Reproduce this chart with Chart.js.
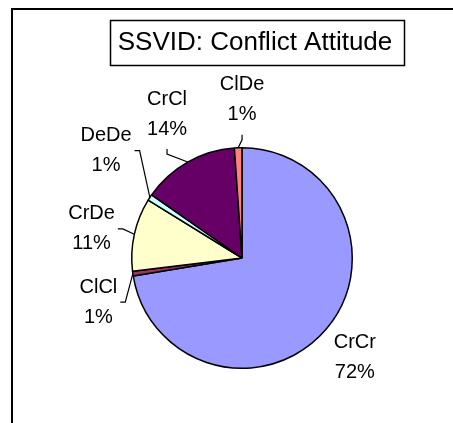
<!DOCTYPE html>
<html>
<head>
<meta charset="utf-8">
<script src="https://cdn.jsdelivr.net/npm/chart.js@4"></script>
<style>
  html, body { margin: 0; padding: 0; background: #fff; }
  #wrap { width: 453px; height: 423px; }
</style>
</head>
<body>
<div id="wrap"><canvas id="pieChart" width="453" height="423"></canvas></div>
<script>
// Conflict attitude shares (percent)
const categories = ["CrCr", "ClCl", "CrDe", "DeDe", "CrCl", "ClDe"];
const shares = [72.4, 0.7, 10.7, 0.9, 14.2, 1.1];
const sliceColors = ["#9999FF", "#993366", "#FFFFCC", "#CCFFFF", "#660066", "#FF8080"];
const chartTitle = "SSVID: Conflict Attitude";

const FONT = '"Liberation Sans", Arial, sans-serif';

// label placement: angle nudge (deg, clockwise), distance past the rim, leader side
const labelPlace = [
  { nudge: 1, extra: 40, leader: null },
  { nudge: -9, extra: 40, leader: "side" },
  { nudge: -1.5, extra: 43, leader: "side" },
  { nudge: 5, extra: 63, leader: "side" },
  { nudge: 2, extra: 52, leader: "bottom" },
  { nudge: 2, extra: 48, leader: "bottom" }
];

const frameAndTitle = {
  id: "frameAndTitle",
  beforeDraw(chart) {
    const ctx = chart.ctx;
    ctx.save();
    ctx.fillStyle = "#fff";
    ctx.fillRect(0, 0, chart.width, chart.height);
    // outer frame (only left and top edges visible)
    ctx.strokeStyle = "#000";
    ctx.lineWidth = 2;
    ctx.beginPath();
    ctx.moveTo(12, chart.height + 2);
    ctx.lineTo(12, 9);
    ctx.lineTo(chart.width + 2, 9);
    ctx.stroke();
    // title box
    ctx.lineWidth = 1.5;
    ctx.strokeRect(110.5, 20.5, 294, 45);
    ctx.fillStyle = "#000";
    ctx.font = "26px " + FONT;
    ctx.textAlign = "center";
    ctx.textBaseline = "middle";
    ctx.fillText(chartTitle, 255, 43);
    ctx.restore();
  }
};

const sliceLabels = {
  id: "sliceLabels",
  afterDatasetsDraw(chart) {
    const ctx = chart.ctx;
    const meta = chart.getDatasetMeta(0);
    ctx.save();
    ctx.font = "20px " + FONT;
    ctx.fillStyle = "#000";
    ctx.strokeStyle = "#000";
    ctx.lineWidth = 1.2;
    ctx.textAlign = "center";
    ctx.textBaseline = "middle";
    meta.data.forEach((arc, i) => {
      const p = arc.getProps(["x", "y", "startAngle", "endAngle", "outerRadius"], true);
      const mid = (p.startAngle + p.endAngle) / 2;
      const place = labelPlace[i];
      const a = mid + place.nudge * Math.PI / 180;
      const d = p.outerRadius + place.extra;
      const cx = p.x + Math.cos(a) * d;
      const cy = p.y + Math.sin(a) * d;
      const line1 = categories[i];
      const line2 = Math.round(shares[i]) + "%";
      ctx.fillText(line1, cx, cy - 15);
      ctx.fillText(line2, cx, cy + 15);

      if (place.leader) {
        const ax = p.x + Math.cos(mid) * p.outerRadius;
        const ay = p.y + Math.sin(mid) * p.outerRadius;
        const w = Math.max(ctx.measureText(line1).width, ctx.measureText(line2).width);
        let sx, sy, ex, ey;
        if (place.leader === "side") {
          const side = ax > cx ? 1 : -1;
          sx = cx + side * (w / 2 + 3);
          sy = cy;
          ex = sx + side * 5;
          ey = sy;
        } else {
          const side = ay > cy ? 1 : -1;
          sx = cx;
          sy = cy + side * 35;
          ex = sx;
          ey = sy + side * 5;
        }
        ctx.beginPath();
        ctx.moveTo(sx, sy);
        ctx.lineTo(ex, ey);
        ctx.lineTo(ax, ay);
        ctx.stroke();
      }
    });
    ctx.restore();
  }
};

new Chart(document.getElementById("pieChart"), {
  type: "pie",
  data: {
    labels: categories,
    datasets: [{
      data: shares,
      backgroundColor: sliceColors,
      borderColor: "#000",
      borderWidth: 1.5
    }]
  },
  options: {
    responsive: false,
    animation: false,
    events: [],
    layout: {
      padding: { left: 131, right: 100, top: 147, bottom: 54 }
    },
    plugins: {
      legend: { display: false },
      title: { display: false },
      tooltip: { enabled: false }
    }
  },
  plugins: [frameAndTitle, sliceLabels]
});
</script>
</body>
</html>
